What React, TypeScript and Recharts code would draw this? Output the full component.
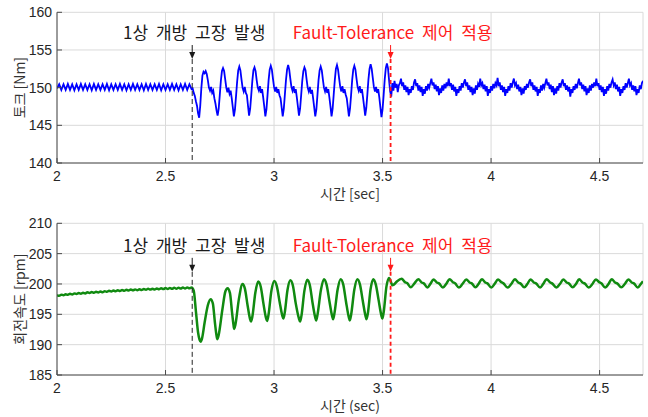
import React from 'react';
import { LineChart, Line, XAxis, YAxis, CartesianGrid, ReferenceLine, ReferenceDot } from 'recharts';

// ---------- axis ticks / labels ----------
const timeTicks = [2, 2.5, 3, 3.5, 4, 4.5];
const torqueTicks = [140, 145, 150, 155, 160];
const speedTicks = [185, 190, 195, 200, 205, 210];
const timeDomain: [number, number] = [2, 4.7];
const torqueDomain: [number, number] = [140, 160];
const speedDomain: [number, number] = [185, 210];
const torqueTitle = '토크 [Nm]';
const speedTitle = '회전속도 [rpm]';
const timeTitleTop = '시간 [sec]';
const timeTitleBottom = '시간 (sec)';
const faultLabel = '1상 개방 고장 발생';
const toleranceLabel = 'Fault-Tolerance 제어 적용';
const faultTime = 2.623;
const toleranceTime = 3.537;
const torqueArrowTip = 153.8;
const speedArrowTip = 202.0;

// ---------- torque [t, Nm] ----------
const torquePreFault: number[][] = [
  [2.00, 149.9], [2.01, 150.45], [2.02, 149.7], [2.03, 150.45], [2.04, 149.7], [2.05, 150.5], [2.06, 149.7], [2.07, 150.45],
  [2.08, 149.65], [2.09, 150.45], [2.10, 149.7], [2.11, 150.5], [2.12, 149.7], [2.13, 150.45], [2.14, 149.7], [2.15, 150.45],
  [2.16, 149.65], [2.17, 150.5], [2.18, 149.7], [2.19, 150.45], [2.20, 149.7], [2.21, 150.45], [2.22, 149.7], [2.23, 150.5],
  [2.24, 149.65], [2.25, 150.45], [2.26, 149.7], [2.27, 150.45], [2.28, 149.7], [2.29, 150.5], [2.30, 149.7], [2.31, 150.45],
  [2.32, 149.65], [2.33, 150.45], [2.34, 149.7], [2.35, 150.5], [2.36, 149.7], [2.37, 150.45], [2.38, 149.7], [2.39, 150.45],
  [2.40, 149.65], [2.41, 150.5], [2.42, 149.7], [2.43, 150.45], [2.44, 149.7], [2.45, 150.45], [2.46, 149.7], [2.47, 150.5],
  [2.48, 149.65], [2.49, 150.45], [2.50, 149.7], [2.51, 150.45], [2.52, 149.7], [2.53, 150.5], [2.54, 149.7], [2.55, 150.45],
  [2.56, 149.65], [2.57, 150.45], [2.58, 149.7], [2.59, 150.5], [2.60, 149.7], [2.61, 150.45], [2.62, 149.8],
];
const torqueFault: number[][] = [
  [2.625, 149.9], [2.630, 149.3], [2.635, 148.9], [2.640, 148.2], [2.645, 147.6], [2.650, 146.6], [2.655, 146.0], [2.660, 147.6],
  [2.665, 149.9], [2.670, 151.6], [2.675, 152.1], [2.680, 151.9], [2.685, 152.2], [2.690, 151.8], [2.695, 151.0], [2.700, 150.0],
  [2.705, 149.6], [2.710, 150.1], [2.715, 149.3], [2.720, 149.6], [2.725, 148.6], [2.730, 147.9], [2.735, 147.0], [2.740, 146.3],
  [2.745, 147.2], [2.750, 149.0], [2.755, 150.9], [2.760, 152.2], [2.765, 152.6], [2.770, 152.2], [2.775, 151.1], [2.780, 150.0],
  [2.785, 149.4], [2.790, 150.0], [2.795, 149.2], [2.800, 149.6], [2.805, 148.6], [2.810, 147.4], [2.815, 146.2], [2.820, 147.1],
  [2.825, 148.9], [2.830, 150.8], [2.835, 152.3], [2.840, 152.8], [2.845, 152.3], [2.850, 151.1], [2.855, 150.0], [2.860, 149.5],
  [2.865, 150.1], [2.870, 149.3], [2.875, 149.0], [2.880, 147.6], [2.885, 146.3], [2.890, 147.2], [2.895, 149.0], [2.900, 150.9],
  [2.905, 152.3], [2.910, 152.7], [2.915, 152.2], [2.920, 151.0], [2.925, 150.0], [2.930, 149.6], [2.935, 150.2], [2.940, 149.3],
  [2.945, 149.8], [2.950, 148.7], [2.955, 147.5], [2.960, 146.2], [2.965, 147.1], [2.970, 149.0], [2.975, 151.0], [2.980, 152.4],
  [2.985, 152.9], [2.990, 152.4], [2.995, 151.2], [3.000, 150.1], [3.005, 149.5], [3.010, 150.1], [3.015, 149.3], [3.020, 149.8],
  [3.025, 149.0], [3.030, 148.6], [3.035, 147.4], [3.040, 146.2], [3.045, 147.2], [3.050, 149.1], [3.055, 151.0], [3.060, 152.4],
  [3.065, 153.0], [3.070, 152.4], [3.075, 151.2], [3.080, 150.1], [3.085, 149.6], [3.090, 150.2], [3.095, 149.3], [3.100, 149.8],
  [3.105, 148.7], [3.110, 147.5], [3.115, 146.3], [3.120, 147.2], [3.125, 149.0], [3.130, 150.9], [3.135, 152.2], [3.140, 152.7],
  [3.145, 152.3], [3.150, 151.1], [3.155, 150.0], [3.160, 149.5], [3.165, 150.1], [3.170, 149.2], [3.175, 149.7], [3.180, 148.6],
  [3.185, 147.4], [3.190, 146.2], [3.195, 147.1], [3.200, 149.0], [3.205, 151.0], [3.210, 152.3], [3.215, 152.8], [3.220, 152.3],
  [3.225, 151.1], [3.230, 150.0], [3.235, 149.5], [3.240, 150.1], [3.245, 149.3], [3.250, 149.8], [3.255, 148.7], [3.260, 147.5],
  [3.265, 146.2], [3.270, 147.2], [3.275, 149.1], [3.280, 151.0], [3.285, 152.5], [3.290, 153.0], [3.295, 152.4], [3.300, 151.2],
  [3.305, 150.1], [3.310, 149.5], [3.315, 150.2], [3.320, 149.3], [3.325, 149.8], [3.330, 149.1], [3.335, 148.6], [3.340, 147.4],
  [3.345, 146.2], [3.350, 147.2], [3.355, 149.0], [3.360, 151.0], [3.365, 152.4], [3.370, 152.9], [3.375, 152.4], [3.380, 151.2],
  [3.385, 150.1], [3.390, 149.6], [3.395, 150.2], [3.400, 149.3], [3.405, 149.8], [3.410, 148.7], [3.415, 147.5], [3.420, 146.3],
  [3.425, 147.3], [3.430, 149.1], [3.435, 151.1], [3.440, 152.5], [3.445, 153.1], [3.450, 152.5], [3.455, 151.3], [3.460, 150.1],
  [3.465, 149.5], [3.470, 150.1], [3.475, 149.3], [3.480, 149.8], [3.485, 148.7], [3.490, 147.4], [3.495, 146.1], [3.500, 147.1],
  [3.505, 149.0], [3.510, 151.1], [3.515, 152.6], [3.520, 153.2], [3.525, 152.6], [3.530, 151.0], [3.535, 149.5], [3.540, 148.8],
];
const torqueTolerant: number[][] = [
  [3.545, 150.6], [3.550, 149.6], [3.555, 150.9], [3.560, 150.0], [3.565, 150.5], [3.570, 149.4], [3.575, 150.3], [3.580, 150.6],
  [3.585, 151.2], [3.590, 150.2], [3.595, 150.7], [3.600, 149.7], [3.605, 150.3], [3.610, 149.4], [3.615, 150.1], [3.620, 149.0],
  [3.625, 149.8], [3.630, 149.3], [3.635, 150.2], [3.640, 149.7], [3.645, 150.7], [3.650, 151.1], [3.655, 150.2], [3.660, 150.6],
  [3.665, 149.6], [3.670, 150.3], [3.675, 149.4], [3.680, 150.1], [3.685, 148.9], [3.690, 149.8], [3.695, 149.2], [3.700, 150.2],
  [3.705, 149.6], [3.710, 150.5], [3.715, 150.0], [3.720, 150.6], [3.725, 151.2], [3.730, 150.3], [3.735, 150.7], [3.740, 149.8],
  [3.745, 150.4], [3.750, 149.5], [3.755, 150.2], [3.760, 149.0], [3.765, 149.9], [3.770, 149.3], [3.775, 150.3], [3.780, 149.6],
  [3.785, 150.5], [3.790, 149.9], [3.795, 150.7], [3.800, 150.2], [3.805, 151.2], [3.810, 150.2], [3.815, 150.6], [3.820, 149.7],
  [3.825, 150.4], [3.830, 149.5], [3.835, 150.1], [3.840, 148.9], [3.845, 149.8], [3.850, 149.3], [3.855, 150.2], [3.860, 149.6],
  [3.865, 150.6], [3.870, 150.0], [3.875, 150.7], [3.880, 151.1], [3.885, 150.2], [3.890, 150.7], [3.895, 149.7], [3.900, 150.3],
  [3.905, 149.4], [3.910, 150.1], [3.915, 149.0], [3.920, 149.9], [3.925, 149.2], [3.930, 150.3], [3.935, 149.7], [3.940, 150.5],
  [3.945, 150.1], [3.950, 151.2], [3.955, 150.3], [3.960, 150.6], [3.965, 149.8], [3.970, 150.4], [3.975, 149.5], [3.980, 150.2],
  [3.985, 148.9], [3.990, 149.8], [3.995, 149.3], [4.000, 150.2], [4.005, 149.6], [4.010, 150.5], [4.015, 149.9], [4.020, 150.6],
  [4.025, 150.3], [4.030, 151.3], [4.035, 150.2], [4.040, 150.7], [4.045, 149.7], [4.050, 150.3], [4.055, 149.4], [4.060, 150.1],
  [4.065, 148.9], [4.070, 149.8], [4.075, 149.3], [4.080, 150.2], [4.085, 149.6], [4.090, 150.6], [4.095, 150.0], [4.100, 150.7],
  [4.105, 151.2], [4.110, 150.3], [4.115, 150.6], [4.120, 149.8], [4.125, 150.4], [4.130, 149.5], [4.135, 150.1], [4.140, 149.0],
  [4.145, 149.9], [4.150, 149.2], [4.155, 150.2], [4.160, 149.7], [4.165, 150.5], [4.170, 150.0], [4.175, 150.7], [4.180, 151.1],
  [4.185, 150.2], [4.190, 150.7], [4.195, 149.7], [4.200, 150.3], [4.205, 149.5], [4.210, 150.1], [4.215, 148.9], [4.220, 149.8],
  [4.225, 149.3], [4.230, 150.3], [4.235, 149.6], [4.240, 150.5], [4.245, 150.0], [4.250, 150.6], [4.255, 151.2], [4.260, 150.3],
  [4.265, 150.7], [4.270, 149.8], [4.275, 150.4], [4.280, 149.4], [4.285, 150.2], [4.290, 149.0], [4.295, 149.9], [4.300, 149.2],
  [4.305, 150.2], [4.310, 149.6], [4.315, 150.6], [4.320, 150.0], [4.325, 150.7], [4.330, 151.1], [4.335, 150.2], [4.340, 150.6],
  [4.345, 149.7], [4.350, 150.3], [4.355, 149.5], [4.360, 150.1], [4.365, 148.8], [4.370, 149.8], [4.375, 149.3], [4.380, 150.2],
  [4.385, 149.7], [4.390, 150.5], [4.395, 149.9], [4.400, 150.6], [4.405, 151.2], [4.410, 150.3], [4.415, 150.7], [4.420, 149.8],
  [4.425, 150.4], [4.430, 149.5], [4.435, 150.2], [4.440, 149.0], [4.445, 149.9], [4.450, 149.3], [4.455, 150.3], [4.460, 149.6],
  [4.465, 150.5], [4.470, 150.0], [4.475, 150.7], [4.480, 150.2], [4.485, 151.2], [4.490, 150.2], [4.495, 150.6], [4.500, 149.7],
  [4.505, 150.3], [4.510, 149.4], [4.515, 150.1], [4.520, 148.9], [4.525, 149.8], [4.530, 149.2], [4.535, 150.2], [4.540, 149.6],
  [4.545, 150.5], [4.550, 150.0], [4.555, 150.7], [4.560, 151.1], [4.565, 150.3], [4.570, 150.7], [4.575, 149.8], [4.580, 150.4],
  [4.585, 149.5], [4.590, 150.1], [4.595, 148.9], [4.600, 149.8], [4.605, 149.3], [4.610, 150.2], [4.615, 149.7], [4.620, 150.6],
  [4.625, 150.0], [4.630, 150.6], [4.635, 151.2], [4.640, 150.3], [4.645, 150.6], [4.650, 149.7], [4.655, 150.3], [4.660, 149.5],
  [4.665, 150.2], [4.670, 149.0], [4.675, 149.8], [4.680, 149.3], [4.685, 150.3], [4.690, 149.8], [4.695, 150.6], [4.700, 150.9],
];

// ---------- speed [t, rpm] ----------
const speedPreFault: number[][] = [
  [2.00, 198.17], [2.01, 198.07], [2.02, 198.24], [2.03, 198.14], [2.04, 198.31], [2.05, 198.21], [2.06, 198.38], [2.07, 198.28],
  [2.08, 198.45], [2.09, 198.35], [2.10, 198.52], [2.11, 198.40], [2.12, 198.57], [2.13, 198.45], [2.14, 198.62], [2.15, 198.50],
  [2.16, 198.67], [2.17, 198.55], [2.18, 198.72], [2.19, 198.60], [2.20, 198.77], [2.21, 198.65], [2.22, 198.82], [2.23, 198.70],
  [2.24, 198.87], [2.25, 198.75], [2.26, 198.92], [2.27, 198.80], [2.28, 198.97], [2.29, 198.85], [2.30, 199.02], [2.31, 198.89],
  [2.32, 199.05], [2.33, 198.92], [2.34, 199.08], [2.35, 198.95], [2.36, 199.11], [2.37, 198.98], [2.38, 199.14], [2.39, 199.01],
  [2.40, 199.17], [2.41, 199.05], [2.42, 199.20], [2.43, 199.07], [2.44, 199.23], [2.45, 199.10], [2.46, 199.26], [2.47, 199.13],
  [2.48, 199.29], [2.49, 199.16], [2.50, 199.32], [2.51, 199.19], [2.52, 199.34], [2.53, 199.21], [2.54, 199.36], [2.55, 199.23],
  [2.56, 199.38], [2.57, 199.25], [2.58, 199.40], [2.59, 199.27], [2.60, 199.42], [2.61, 199.30], [2.62, 199.42],
];
const speedFault: number[][] = [
  [2.630, 198.9], [2.640, 195.5], [2.650, 192.0], [2.657, 190.8], [2.662, 190.5], [2.668, 191.0], [2.680, 193.6], [2.695, 196.5],
  [2.708, 197.5], [2.718, 196.8], [2.728, 193.5], [2.735, 191.5], [2.739, 190.9], [2.745, 191.6], [2.762, 195.8], [2.776, 198.8],
  [2.786, 199.3], [2.797, 198.5], [2.806, 195.5], [2.813, 193.3], [2.816, 192.6], [2.822, 193.3], [2.838, 197.5], [2.855, 200.0],
  [2.866, 199.2], [2.878, 196.5], [2.889, 194.3], [2.894, 193.8], [2.900, 194.6], [2.914, 198.6], [2.927, 200.4], [2.939, 199.5],
  [2.951, 196.8], [2.963, 194.4], [2.968, 193.9], [2.974, 194.8], [2.988, 198.9], [3.001, 200.5], [3.013, 199.6], [3.026, 197.0],
  [3.038, 194.8], [3.043, 194.3], [3.049, 195.2], [3.062, 199.0], [3.075, 200.6], [3.087, 199.7], [3.100, 196.8], [3.114, 194.4],
  [3.120, 193.8], [3.126, 194.7], [3.140, 198.9], [3.153, 200.7], [3.165, 199.8], [3.177, 197.0], [3.189, 194.6], [3.194, 194.0],
  [3.200, 194.9], [3.216, 199.0], [3.230, 200.8], [3.242, 199.9], [3.255, 197.2], [3.267, 194.8], [3.272, 194.2], [3.278, 195.1],
  [3.293, 199.1], [3.307, 200.8], [3.319, 199.9], [3.332, 197.0], [3.344, 194.6], [3.349, 194.0], [3.355, 194.9], [3.370, 199.1],
  [3.384, 200.8], [3.396, 199.9], [3.409, 197.2], [3.421, 194.8], [3.426, 194.2], [3.432, 195.1], [3.445, 199.2], [3.457, 200.8],
  [3.469, 199.9], [3.482, 197.3], [3.494, 194.9], [3.499, 194.3], [3.505, 195.3], [3.518, 199.6], [3.530, 201.0],
];
const speedTolerant: number[][] = [
  [3.538, 200.4], [3.545, 199.8], [3.552, 199.9], [3.566, 200.4], [3.588, 200.85], [3.603, 200.3], [3.613, 200.15], [3.630, 199.45],
  [3.646, 200.05], [3.665, 200.8], [3.680, 200.25], [3.690, 200.1], [3.707, 199.4], [3.720, 200.0], [3.735, 200.75], [3.750, 200.25],
  [3.760, 200.1], [3.778, 199.4], [3.793, 200.0], [3.809, 200.8], [3.824, 200.3], [3.834, 200.1], [3.852, 199.4], [3.868, 200.0],
  [3.886, 200.75], [3.901, 200.25], [3.911, 200.1], [3.928, 199.45], [3.942, 200.0], [3.958, 200.8], [3.973, 200.25], [3.983, 200.1],
  [4.001, 199.4], [4.016, 200.0], [4.032, 200.75], [4.047, 200.3], [4.057, 200.1], [4.076, 199.4], [4.093, 200.0], [4.110, 200.8],
  [4.125, 200.25], [4.135, 200.1], [4.153, 199.45], [4.167, 200.0], [4.182, 200.75], [4.197, 200.25], [4.207, 200.1], [4.226, 199.4],
  [4.240, 200.0], [4.256, 200.8], [4.271, 200.3], [4.281, 200.1], [4.301, 199.4], [4.317, 200.0], [4.333, 200.75], [4.348, 200.25],
  [4.358, 200.1], [4.376, 199.45], [4.391, 200.0], [4.406, 200.8], [4.421, 200.25], [4.431, 200.1], [4.450, 199.4], [4.467, 200.0],
  [4.483, 200.75], [4.498, 200.3], [4.508, 200.1], [4.526, 199.4], [4.541, 200.0], [4.556, 200.8], [4.571, 200.25], [4.581, 200.1],
  [4.600, 199.45], [4.616, 200.0], [4.633, 200.75], [4.648, 200.25], [4.658, 200.1], [4.676, 199.4], [4.690, 200.0], [4.700, 200.45],
];

const torqueData = [...torquePreFault, ...torqueFault, ...torqueTolerant].map(([t, v]) => ({ t, v }));
const speedData = [...speedPreFault, ...speedFault, ...speedTolerant].map(([t, v]) => ({ t, v }));

const KR = '"Noto Sans CJK KR", "Noto Sans", sans-serif';
const NUM = '"Liberation Sans", Arial, Helvetica, sans-serif';
const AXIS_COLOR = '#4a4a4a';
const GRID_COLOR = '#dadada';
const TEXT_COLOR = '#262626';

const ArrowMark = (props: any) => {
  const { cx, cy, color, text } = props;
  if (cx == null || cy == null) return null;
  return (
    <g>
      <line x1={cx} y1={cy - 14} x2={cx} y2={cy - 5} stroke={color} strokeWidth={1} />
      <polygon points={`${cx - 3},${cy - 7} ${cx + 3},${cy - 7} ${cx},${cy}`} fill={color} />
      <text x={cx + 2} y={cy - 20} textAnchor="middle" fill={color} fontSize={17} wordSpacing={4} fontFamily={KR}>
        {text}
      </text>
    </g>
  );
};

const YTitle = (props: any) => {
  const { viewBox, value } = props;
  if (!viewBox) return null;
  const x = 19;
  const y = viewBox.y + viewBox.height / 2;
  return (
    <text x={x} y={y} transform={`rotate(-90 ${x} ${y})`} textAnchor="middle" dominantBaseline="central" fill="#333" fontSize={14} fontFamily={KR}>
      {value}
    </text>
  );
};

const XTitle = (props: any) => {
  const { viewBox, value } = props;
  if (!viewBox) return null;
  const x = viewBox.x + viewBox.width / 2;
  const y = viewBox.y + 30;
  return (
    <text x={x} y={y} textAnchor="middle" dominantBaseline="central" fill="#333" fontSize={14} fontFamily={KR}>
      {value}
    </text>
  );
};

type PanelProps = {
  data: { t: number; v: number }[];
  yDomain: [number, number];
  yTicks: number[];
  yTitle: string;
  xTitle: string;
  color: string;
  strokeWidth: number;
  lineType: 'linear' | 'monotone';
  arrowTip: number;
  height: number;
  marginTop: number;
};

const Panel = (p: PanelProps) => (
  <LineChart width={648} height={p.height} data={p.data} margin={{ top: p.marginTop, right: 5, bottom: 0, left: 0 }}>
    <CartesianGrid stroke={GRID_COLOR} strokeWidth={1} />
    <XAxis
      dataKey="t"
      type="number"
      domain={timeDomain}
      ticks={timeTicks}
      allowDataOverflow
      height={42}
      tickSize={-5}
      tickMargin={13}
      stroke={AXIS_COLOR}
      tick={{ fontSize: 14, fill: TEXT_COLOR, fontFamily: NUM }}
      label={<XTitle value={p.xTitle} />}
    />
    <XAxis
      xAxisId="top"
      orientation="top"
      dataKey="t"
      type="number"
      domain={timeDomain}
      ticks={timeTicks}
      allowDataOverflow
      height={0}
      tickSize={-5}
      tick={false}
      stroke={AXIS_COLOR}
    />
    <YAxis
      type="number"
      domain={p.yDomain}
      ticks={p.yTicks}
      allowDataOverflow
      width={57}
      tickSize={-5}
      tickMargin={10}
      stroke={AXIS_COLOR}
      tick={{ fontSize: 14, fill: TEXT_COLOR, fontFamily: NUM }}
      label={<YTitle value={p.yTitle} />}
    />
    <YAxis
      yAxisId="right"
      orientation="right"
      type="number"
      domain={p.yDomain}
      ticks={p.yTicks}
      allowDataOverflow
      width={0}
      tickSize={-5}
      tick={false}
      stroke={AXIS_COLOR}
    />
    <Line
      dataKey="v"
      type={p.lineType}
      stroke={p.color}
      strokeWidth={p.strokeWidth}
      dot={false}
      activeDot={false}
      isAnimationActive={false}
    />
    <ReferenceLine
      segment={[{ x: faultTime, y: p.arrowTip }, { x: faultTime, y: p.yDomain[0] }]}
      stroke="#222"
      strokeWidth={1}
      strokeDasharray="5 3"
    />
    <ReferenceLine
      segment={[{ x: toleranceTime, y: p.arrowTip }, { x: toleranceTime, y: p.yDomain[0] }]}
      stroke="#ff1a1a"
      strokeWidth={1.8}
      strokeDasharray="4 3"
    />
    <ReferenceDot x={faultTime} y={p.arrowTip} shape={(s: any) => <ArrowMark {...s} color="#1a1a1a" text={faultLabel} />} />
    <ReferenceDot x={toleranceTime} y={p.arrowTip} shape={(s: any) => <ArrowMark {...s} color="#ff1a1a" text={toleranceLabel} />} />
  </LineChart>
);

export default function App() {
  return (
    <div style={{ position: 'absolute', left: 0, top: 0, width: 648, height: 417, background: '#fff', overflow: 'hidden' }}>
      <div style={{ position: 'absolute', left: 0, top: 0 }}>
        <Panel
          data={torqueData}
          yDomain={torqueDomain}
          yTicks={torqueTicks}
          yTitle={torqueTitle}
          xTitle={timeTitleTop}
          color="#0000ff"
          strokeWidth={1.8}
          lineType="linear"
          arrowTip={torqueArrowTip}
          height={205}
          marginTop={12.3}
        />
      </div>
      <div style={{ position: 'absolute', left: 0, top: 205 }}>
        <Panel
          data={speedData}
          yDomain={speedDomain}
          yTicks={speedTicks}
          yTitle={speedTitle}
          xTitle={timeTitleBottom}
          color="#108a10"
          strokeWidth={2.5}
          lineType="monotone"
          arrowTip={speedArrowTip}
          height={212}
          marginTop={18.3}
        />
      </div>
    </div>
  );
}
